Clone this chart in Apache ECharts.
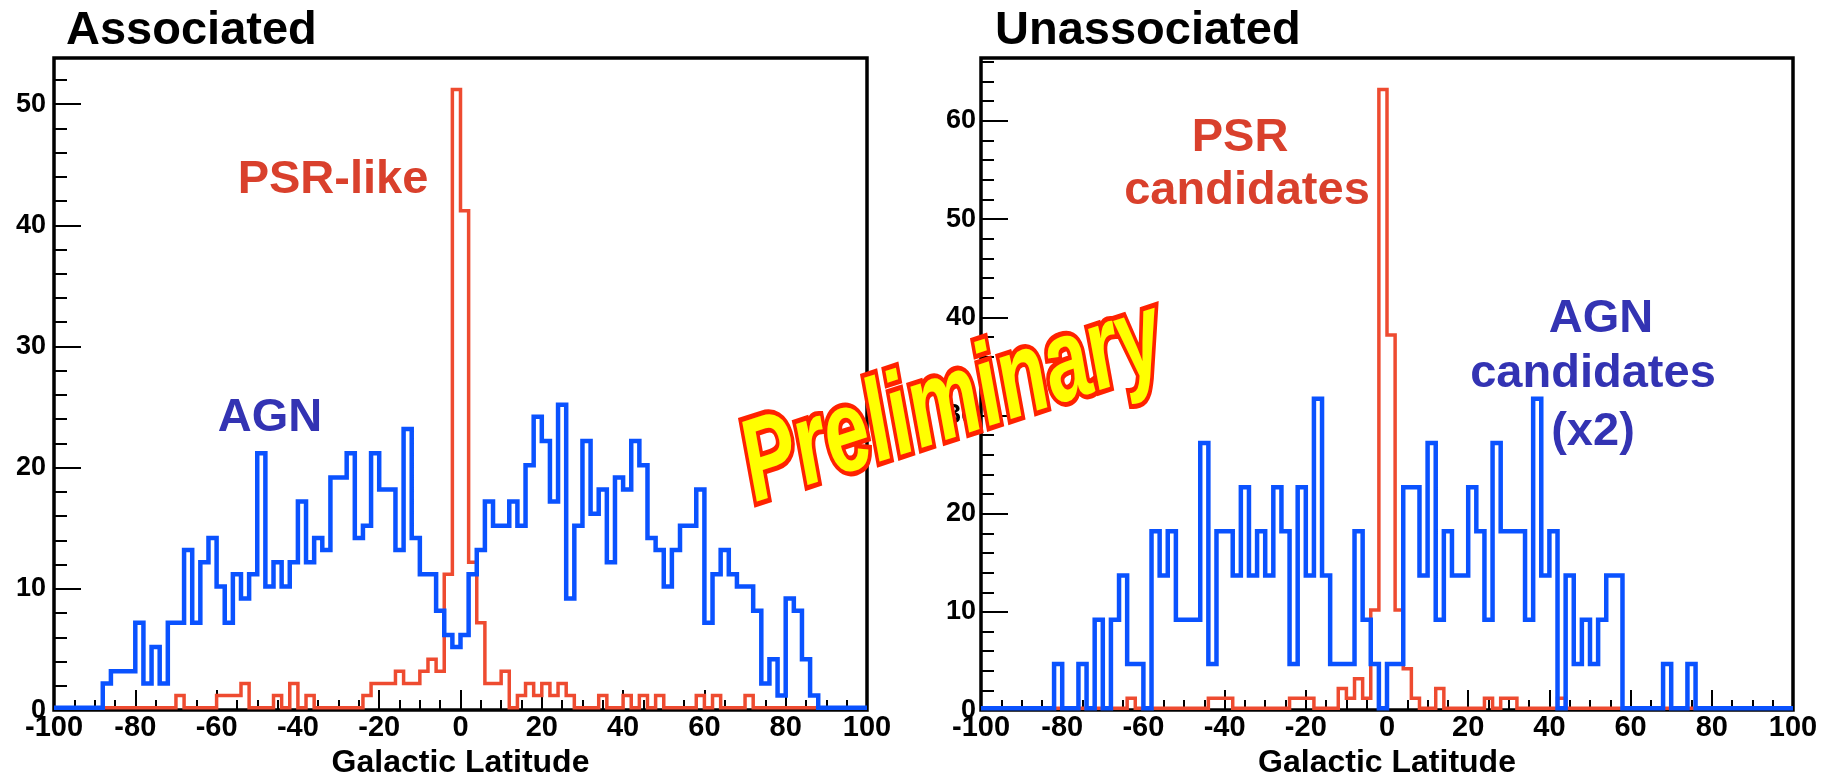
<!DOCTYPE html>
<html>
<head>
<meta charset="utf-8">
<script src="https://cdn.jsdelivr.net/npm/echarts@6/dist/echarts.min.js"></script>
<style>
html,body{margin:0;padding:0;background:#fff;}
#chart{width:1821px;height:784px;}
</style>
</head>
<body>
<div id="chart"></div>
<script>
// ---- data (histograms, 2-degree bins from -100 to 100) ----
const latitudeMin = -100;
const binWidth = 2;

const assocAGN = [0,0,0,0,0,0,2,3,3,3, 7,2,5,2,7,7,13,7,12,14, 10,7,11,9,11,21,10,12,10,12,
  17,12,14,13,19,19,21,14,15,21, 18,18,13,23,14,11,11,8,6,5, 6,11,13,17,15,15,17,15,20,24,
  22,17,25,9,15,22,16,18,12,19, 18,22,20,14,13,10,13,15,15,18, 7,11,13,11,10,10,8,2,4,1,
  9,8,4,1,0,0,0,0,0,0];
const assocPSR = [0,0,0,0,0,0,0,0,0,0, 0,0,0,0,0,1,0,0,0,0, 1,1,1,2,0,0,0,1,0,2,
  0,1,0,0,0,0,0,0,1,2, 2,2,3,2,2,3,4,3,11,51, 41,12,7,2,2,3,0,1,2,1,
  2,1,2,1,0,0,0,1,0,0, 1,0,1,0,1,0,0,0,0,1, 0,1,0,0,0,1,0,0,0,0,
  0,0,0,0,0,0,0,0,0,0];
const unassocAGN = [0,0,0,0,0,0,0,0,0,4.5, 0,0,4.5,0,9,0,9,13.5,4.5,4.5, 0,18,13.5,18,9,9,9,27,4.5,18,
  18,13.5,22.5,13.5,18,13.5,22.5,18,4.5,22.5, 13.5,31.5,13.5,4.5,4.5,4.5,18,9,4.5,0,
  4.5,4.5,22.5,22.5,13.5,27,9,18,13.5,13.5, 22.5,18,9,27,18,18,18,9,31.5,13.5,
  18,0,13.5,4.5,9,4.5,9,13.5,13.5,0, 0,0,0,0,4.5,0,0,4.5,0,0, 0,0,0,0,0,0,0,0,0,0];
const unassocPSR = [0,0,0,0,0,0,0,0,0,0, 0,0,0,0,0,0,0,0,1,0, 0,0,0,0,0,0,0,0,1,1,
  1,0,0,0,0,0,0,0,1,1, 1,0,0,0,2,1,3,1,10,63, 38,10,4,1,0,0,2,0,0,0,
  0,0,1,0,1,1,0,0,0,0, 0,1,0,0,0,0,0,0,0,0, 0,0,0,0,0,0,0,0,0,0, 0,0,0,0,0,0,0,0,0,0];

const panelTitles = ['Associated', 'Unassociated'];
const axisTitle = 'Galactic Latitude';
const yMaxByPanel = [53.8, 66.4];

// ---- styling ----
const FONT = '"Liberation Sans", Arial, Helvetica, sans-serif';
const RED = '#ee4b30';
const BLUE = '#0a52ff';
const RED_TEXT = '#d9402c';
const BLUE_TEXT = '#3333b3';

function histPoints(values) {
  const pts = [];
  values.forEach(function (v, i) {
    const lo = latitudeMin + i * binWidth;
    pts.push([lo, v], [lo + binWidth, v]);
  });
  return pts;
}

const gridBoxes = [
  {left: 54, top: 58, width: 813, height: 660},
  {left: 981, top: 58, width: 812, height: 660}
];
const yLabelMargins = [8, 5];

const grid = gridBoxes.map(function (b) {
  return Object.assign({show: true, borderColor: '#000', borderWidth: 3.5, backgroundColor: 'transparent', containLabel: false}, b);
});

const xAxis = gridBoxes.map(function (b, g) {
  return {
    gridIndex: g, type: 'value', position: 'bottom', min: -100, max: 100, interval: 20,
    axisLine: {show: false, onZero: false},
    splitLine: {show: false},
    axisTick: {show: true, inside: true, length: 20, lineStyle: {color: '#000', width: 2}},
    minorTick: {show: true, splitNumber: 4, length: 10, lineStyle: {color: '#000', width: 2}},
    minorSplitLine: {show: false},
    axisLabel: {show: true, margin: 3, fontSize: 29, fontWeight: 'bold', color: '#000', fontFamily: FONT,
      showMinLabel: true, showMaxLabel: true},
    name: axisTitle, nameLocation: 'middle', nameGap: 35,
    nameTextStyle: {fontSize: 32, fontWeight: 'bold', color: '#000', fontFamily: FONT}
  };
});

const yAxis = [];
gridBoxes.forEach(function (b, g) {
  const yMax = yMaxByPanel[g];
  // major ticks + labels
  yAxis.push({
    gridIndex: g, type: 'value', position: 'left', offset: 0, min: 0, max: yMax, interval: 10,
    axisLine: {show: false, onZero: false}, splitLine: {show: false},
    axisTick: {show: true, inside: true, length: 27, lineStyle: {color: '#000', width: 2}},
    axisLabel: {show: true, margin: yLabelMargins[g], fontSize: 27, fontWeight: 'bold', color: '#000',
      fontFamily: FONT, showMaxLabel: false, showMinLabel: true}
  });
  // minor ticks
  yAxis.push({
    gridIndex: g, type: 'value', position: 'left', offset: 0, min: 0, max: yMax, interval: 2,
    axisLine: {show: false, onZero: false}, splitLine: {show: false},
    axisTick: {show: true, inside: true, length: 13, lineStyle: {color: '#000', width: 2}},
    axisLabel: {show: false}
  });
  // data axis (same scale, histogram drawn slightly above frame like the original)
  yAxis.push({
    gridIndex: g, type: 'value', position: 'left', offset: 0, min: -0.2, max: yMax - 0.2, show: false,
    axisLine: {show: false, onZero: false}, splitLine: {show: false}
  });
});

function lineSeries(values, g, color, width, z) {
  return {
    type: 'line', xAxisIndex: g, yAxisIndex: g * 3 + 2,
    data: histPoints(values), showSymbol: false, symbol: 'none',
    lineStyle: {color: color, width: width, join: 'miter', cap: 'butt'},
    z: z, silent: true, animation: false
  };
}

const series = [
  lineSeries(assocPSR, 0, RED, 3.5, 3),
  lineSeries(assocAGN, 0, BLUE, 4.5, 4),
  lineSeries(unassocPSR, 1, RED, 3.5, 3),
  lineSeries(unassocAGN, 1, BLUE, 4.5, 4)
];

function label(text, x, y, color, align) {
  return {
    type: 'text', x: x, y: y, z: 50,
    style: {text: text, fontSize: 47, fontWeight: 'bold', fontFamily: FONT, fill: color,
      align: align || 'center', verticalAlign: 'middle',
      textAlign: align || 'center', textVerticalAlign: 'middle'}
  };
}

const prelimAngle = 18 * Math.PI / 180;
const prelimBase = {
  text: 'Preliminary', fontSize: 104, fontWeight: 'bold', fontStyle: 'italic', fontFamily: FONT,
  align: 'center', verticalAlign: 'middle', textAlign: 'center', textVerticalAlign: 'middle'
};

const graphic = [
  label(panelTitles[0], 66, 31, '#000', 'left'),
  label(panelTitles[1], 995, 31, '#000', 'left'),
  label('PSR-like', 333, 180, RED_TEXT),
  label('AGN', 270, 418, BLUE_TEXT),
  label('PSR', 1240, 138, RED_TEXT),
  label('candidates', 1247, 191, RED_TEXT),
  label('AGN', 1601, 319, BLUE_TEXT),
  label('candidates', 1593, 374, BLUE_TEXT),
  label('(x2)', 1593, 432, BLUE_TEXT),
  {type: 'text', x: 953, y: 404, rotation: prelimAngle, scaleX: 0.77, scaleY: 1.12, z: 100,
    style: Object.assign({}, prelimBase, {fill: '#ff2200', stroke: '#ff2200', lineWidth: 9, lineJoin: 'round'})},
  {type: 'text', x: 953, y: 404, rotation: prelimAngle, scaleX: 0.77, scaleY: 1.12, z: 101,
    style: Object.assign({}, prelimBase, {fill: '#ffff00'})}
];

const chart = echarts.init(document.getElementById('chart'), null, {renderer: 'canvas'});
chart.setOption({
  backgroundColor: '#fff',
  animation: false,
  grid: grid,
  xAxis: xAxis,
  yAxis: yAxis,
  series: series,
  graphic: graphic
});
</script>
</body>
</html>
